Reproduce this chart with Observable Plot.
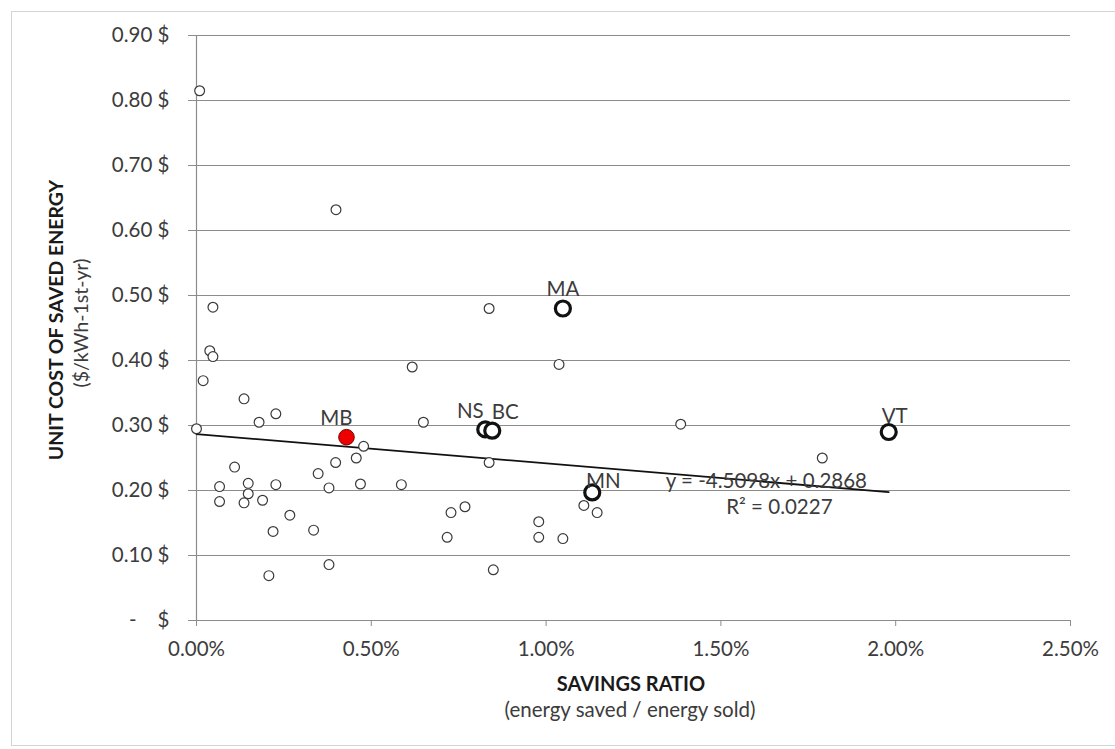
<!DOCTYPE html>
<html>
<head>
<meta charset="utf-8">
<script src="https://cdn.jsdelivr.net/npm/d3@7"></script>
<script src="https://cdn.jsdelivr.net/npm/@observablehq/plot@0.6"></script>
<style>
  body { margin: 0; background: #fff; }
  #wrap { position: relative; width: 1115px; height: 749px; overflow: hidden; }
  #frame { position: absolute; left: 11px; top: 11px; width: 1200px; height: 735px;
           border: 1px solid #d4d4d4; box-sizing: border-box; pointer-events: none; }
  svg text { white-space: pre; }
</style>
</head>
<body>
<div id="wrap"><div id="frame"></div></div>
<script>
// ---- data ----
const savingsRatio = [0.00009, 0.00399, 0.00047, 0.00038, 0.00047, 0.00019, 0.00136, 0.00179, 0.00227, 0.00000,
  0.00478, 0.00457, 0.00398, 0.00109, 0.00348, 0.00066, 0.00148, 0.00227, 0.00379, 0.00469,
  0.00586, 0.00066, 0.00148, 0.00136, 0.00189, 0.00267, 0.00219, 0.00335, 0.00379, 0.00207,
  0.00837, 0.00617, 0.01037, 0.00649, 0.01385, 0.00837, 0.00728, 0.00768, 0.00717, 0.00979,
  0.00979, 0.01048, 0.01108, 0.01146, 0.00849, 0.01790];
const unitCost = [0.815, 0.632, 0.482, 0.415, 0.406, 0.369, 0.341, 0.305, 0.318, 0.295,
  0.268, 0.250, 0.243, 0.236, 0.226, 0.206, 0.211, 0.209, 0.204, 0.210,
  0.209, 0.183, 0.195, 0.181, 0.185, 0.162, 0.137, 0.139, 0.086, 0.069,
  0.480, 0.390, 0.394, 0.305, 0.302, 0.243, 0.166, 0.175, 0.128, 0.152,
  0.128, 0.126, 0.177, 0.166, 0.078, 0.250];

const stateNames = ["MA", "NS", "BC", "MN", "VT", "MB"];
const stateRatio = [0.01048, 0.00826, 0.00846, 0.01132, 0.01980, 0.00429];
const stateCost  = [0.480, 0.294, 0.292, 0.197, 0.290, 0.282];
const highlightState = "MB";

const trendSlope = -4.5098;
const trendIntercept = 0.2868;
const trendR2 = 0.0227;
const equationAtRatio = 0.0163;

const xTicks = [0, 0.005, 0.01, 0.015, 0.02, 0.025];
const yTicks = [0, 0.1, 0.2, 0.3, 0.4, 0.5, 0.6, 0.7, 0.8, 0.9];

// ---- derived tables ----
const others = savingsRatio.map((x, i) => ({x, y: unitCost[i]}));
const states = stateNames.map((name, i) => ({name, x: stateRatio[i], y: stateCost[i]}));
const allX = savingsRatio.concat(stateRatio);
const trendFn = x => trendSlope * x + trendIntercept;
const trend = [d3.min(allX), d3.max(allX)].map(x => ({x, y: trendFn(x)}));
const eqRow = [{x: equationAtRatio, y: trendFn(equationAtRatio)}];

const labelOffset = {MA: [0, -19], NS: [-15, -18], BC: [13, -18], MN: [11, -11], VT: [6, -16], MB: [-10, -19]};

const FONT = "Lato, 'Open Sans', sans-serif";
const GRID = "#8c8c8c";
const TXT = "#3c3c3c";

const yFmt = d => d === 0 ? "-    $" : d.toFixed(2) + " $";

const svg = Plot.plot({
  width: 1115, height: 749,
  marginLeft: 196, marginRight: 45, marginTop: 35, marginBottom: 129,
  x: {domain: [0, 0.025]},
  y: {domain: [0, 0.9]},
  style: {fontFamily: FONT, fontSize: "20px", color: TXT, background: "transparent", overflow: "visible"},
  marks: [
    Plot.gridY(yTicks, {stroke: GRID, strokeOpacity: 1, strokeWidth: 1.2}),
    Plot.axisY(yTicks, {tickSize: 8, tickPadding: 19, tickFormat: yFmt, stroke: GRID, fill: TXT, label: null, fontSize: 20.5}),
    Plot.axisX(xTicks, {tickSize: 6, tickPadding: 15, tickFormat: d3.format(".2%"), stroke: GRID, fill: TXT, label: null, fontSize: 20.5}),
    Plot.ruleX([0], {stroke: GRID, strokeWidth: 1.2}),
    Plot.line(trend, {x: "x", y: "y", stroke: "#111", strokeWidth: 1.8}),
    Plot.dot(others, {x: "x", y: "y", r: 4.9, stroke: "#3a3a3a", strokeWidth: 1.2, fill: "white"}),
    Plot.dot(states.filter(d => d.name !== highlightState), {x: "x", y: "y", r: 7.5, stroke: "#111", strokeWidth: 3.2, fill: "white"}),
    Plot.dot(states.filter(d => d.name === highlightState), {x: "x", y: "y", r: 7.8, stroke: "#7a0000", strokeWidth: 1, fill: "#ee0000"}),
    ...states.map(d => Plot.text([d], {x: "x", y: "y", text: "name", dx: labelOffset[d.name][0], dy: labelOffset[d.name][1],
      fill: TXT, fontSize: 20.5, lineAnchor: "middle"})),
    Plot.text(eqRow, {x: "x", y: "y", text: () => `y = ${trendSlope}x + ${trendIntercept}`, fill: TXT, fontSize: 20.5, lineAnchor: "middle"}),
    Plot.text(eqRow, {x: "x", y: "y", text: () => `R² = ${trendR2}`, dx: 13, dy: 26, fill: TXT, fontSize: 20.5, lineAnchor: "middle"})
  ]
});

const s = d3.select(svg);
s.append("text")
  .attr("transform", "translate(55,320) rotate(-90)")
  .attr("text-anchor", "middle").attr("dominant-baseline", "central")
  .attr("font-family", FONT).attr("font-size", 19.5).attr("font-weight", "bold").attr("fill", "#1a1a1a")
  .text("UNIT COST OF SAVED ENERGY");
s.append("text")
  .attr("transform", "translate(80,323) rotate(-90)")
  .attr("text-anchor", "middle").attr("dominant-baseline", "central")
  .attr("font-family", FONT).attr("font-size", 19.5).attr("fill", TXT)
  .text("($/kWh-1st-yr)");
s.append("text")
  .attr("x", 631).attr("y", 683)
  .attr("text-anchor", "middle").attr("dominant-baseline", "central")
  .attr("font-family", FONT).attr("font-size", 20).attr("font-weight", "bold").attr("fill", "#1a1a1a")
  .text("SAVINGS RATIO");
s.append("text")
  .attr("x", 630).attr("y", 709)
  .attr("text-anchor", "middle").attr("dominant-baseline", "central")
  .attr("font-family", FONT).attr("font-size", 20.5).attr("fill", TXT)
  .text("(energy saved / energy sold)");

document.getElementById("wrap").appendChild(svg);
</script>
</body>
</html>
